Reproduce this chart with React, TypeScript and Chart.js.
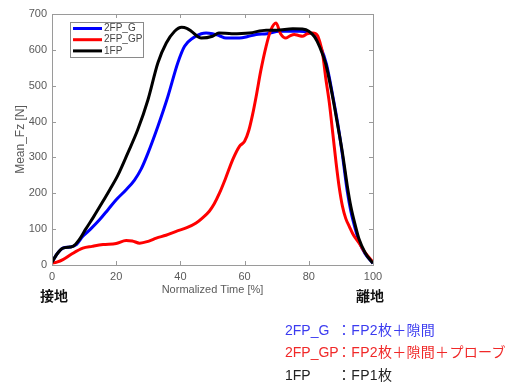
import React, { useEffect, useRef } from "react";
import { Chart, registerables } from "chart.js";

Chart.register(...registerables);

const xTicks = [0, 20, 40, 60, 80, 100];
const yTicks = [0, 100, 200, 300, 400, 500, 600, 700];

const seriesLabels = ["2FP_G", "2FP_GP", "1FP"];
const seriesColors = ["#0000ff", "#ff0000", "#000000"];

// 2FP_G (blue)
const gX = [0, 1.5, 3.4, 5.5, 7.6, 9.6, 12, 14.8, 17.5, 20, 23.1, 25.7, 27.8, 29.9, 33, 36.1, 39.2, 41.3, 43.9, 46.5, 48, 50, 52, 54.2, 56, 58.4, 61, 63.6, 67, 70.8, 74, 77, 79.5, 81.7, 83.5, 85.5, 87.5, 89, 90.5, 92, 93.1, 94.5, 95.7, 97.5, 100];
const gY = [8, 30, 47, 50, 57, 80, 100, 126, 155, 182, 210, 237, 268, 312, 387, 470, 564, 610, 633, 645, 647, 645, 640, 633, 633, 633, 637, 643, 645, 652, 652, 652, 650, 640, 612, 560, 470, 395, 305, 205, 150, 100, 65, 32, 5];

// 2FP_GP (red)
const gpX = [0, 1.5, 3.4, 6, 9.6, 12.5, 15.9, 20, 23.1, 25, 27.3, 30, 32.5, 35.5, 38.7, 42, 44.9, 47, 49, 50.5, 52.2, 54, 56.3, 58.4, 60, 61.3, 62.5, 63.6, 65, 66.7, 68.2, 69.8, 71.2, 72.9, 74.3, 75.5, 76.8, 78, 79.5, 81.2, 82.7, 83.5, 84.3, 85.3, 86.4, 87.5, 88.5, 89.5, 90.5, 91.5, 92.6, 94, 95.7, 97.5, 100];
const gpY = [5, 8, 15, 30, 47, 52, 57, 60, 68, 67, 61, 66, 75, 83, 94, 104, 117, 132, 150, 170, 201, 240, 294, 331, 345, 375, 420, 470, 540, 610, 656, 675, 645, 633, 640, 643, 640, 638, 645, 647, 640, 620, 590, 520, 452, 365, 285, 215, 163, 130, 108, 82, 61, 35, 8];

// 1FP (black)
const fpX = [0, 1.5, 3.4, 6.5, 8.6, 10.5, 13, 15.5, 18, 20.5, 23.6, 26.7, 29.9, 33, 35.6, 38.2, 40.4, 42, 43.4, 46.5, 50, 52, 56, 61.5, 66.7, 70, 75, 78, 80, 81.8, 83.3, 85.3, 87.4, 89, 90.5, 92, 93.1, 94.5, 95.7, 97.5, 99.3, 100];
const fpY = [8, 30, 47, 52, 72, 100, 135, 172, 210, 250, 312, 377, 461, 564, 619, 652, 663, 660, 652, 633, 638, 647, 645, 647, 655, 655, 659, 658, 652, 636, 610, 560, 470, 390, 312, 220, 163, 110, 71, 35, 12, 5];

const seriesX = [gX, gpX, fpX];
const seriesY = [gY, gpY, fpY];

const framePlugin = {
  id: "frame",
  afterDatasetsDraw(chart: any) {
    const { ctx, chartArea: a, scales } = chart;
    ctx.save();
    ctx.strokeStyle = "#9a9a9a";
    ctx.lineWidth = 1;
    ctx.strokeRect(Math.round(a.left) + 0.5, Math.round(a.top) + 0.5, Math.round(a.right - a.left), Math.round(a.bottom - a.top));
    const tl = 4;
    ctx.beginPath();
    xTicks.forEach((v) => {
      const px = Math.round(scales.x.getPixelForValue(v)) + 0.5;
      ctx.moveTo(px, a.bottom);
      ctx.lineTo(px, a.bottom - tl);
      ctx.moveTo(px, a.top);
      ctx.lineTo(px, a.top + tl);
    });
    yTicks.forEach((v) => {
      const py = Math.round(scales.y.getPixelForValue(v)) + 0.5;
      ctx.moveTo(a.left, py);
      ctx.lineTo(a.left + tl, py);
      ctx.moveTo(a.right, py);
      ctx.lineTo(a.right - tl, py);
    });
    ctx.stroke();
    ctx.restore();
  },
};

const legendPlugin = {
  id: "innerLegend",
  afterDraw(chart: any) {
    const { ctx, chartArea: a } = chart;
    const x0 = Math.round(a.left) + 18;
    const y0 = Math.round(a.top) + 8;
    const w = 73;
    const h = 35;
    ctx.save();
    ctx.fillStyle = "#ffffff";
    ctx.fillRect(x0, y0, w, h);
    ctx.strokeStyle = "#8a8a8a";
    ctx.lineWidth = 1;
    ctx.strokeRect(x0 + 0.5, y0 + 0.5, w, h);
    ctx.font = "10px 'Liberation Sans', Arial, sans-serif";
    ctx.textBaseline = "middle";
    ctx.textAlign = "left";
    seriesLabels.forEach((lab, i) => {
      const yy = y0 + 6.5 + i * 11.2;
      ctx.strokeStyle = seriesColors[i];
      ctx.lineWidth = 3;
      ctx.beginPath();
      ctx.moveTo(x0 + 3, yy);
      ctx.lineTo(x0 + 32, yy);
      ctx.stroke();
      ctx.fillStyle = "#444444";
      ctx.fillText(lab, x0 + 34, yy);
    });
    ctx.restore();
  },
};

export default function App() {
  const ref = useRef<HTMLCanvasElement>(null);

  useEffect(() => {
    const orders = [2, 1, 0];
    const chart = new Chart(ref.current as HTMLCanvasElement, {
      type: "line",
      data: {
        datasets: seriesLabels.map((label, i) => ({
          label,
          data: seriesX[i].map((x, j) => ({ x, y: seriesY[i][j] })),
          borderColor: seriesColors[i],
          backgroundColor: seriesColors[i],
          borderWidth: 3,
          pointRadius: 0,
          fill: false,
          cubicInterpolationMode: "monotone" as const,
          order: orders[i],
        })),
      },
      options: {
        animation: false,
        responsive: false,
        maintainAspectRatio: false,
        layout: { padding: { left: 0, top: 14, right: 150, bottom: 88 } },
        plugins: { legend: { display: false }, tooltip: { enabled: false } },
        scales: {
          x: {
            type: "linear",
            min: 0,
            max: 100,
            afterBuildTicks: (s: any) => {
              s.ticks = xTicks.map((v) => ({ value: v }));
            },
            afterFit: (s: any) => {
              s.height = 35;
            },
            grid: { display: false, drawTicks: false },
            border: { display: false },
            ticks: {
              padding: 5,
              color: "#5a5a5a",
              font: { family: "'Liberation Sans', Arial, sans-serif", size: 11 },
              maxRotation: 0,
            },
            title: {
              display: true,
              text: "Normalized Time [%]",
              color: "#5a5a5a",
              font: { family: "'Liberation Sans', Arial, sans-serif", size: 11 },
              padding: { top: 0, bottom: 3 },
            },
          },
          y: {
            type: "linear",
            min: 0,
            max: 700,
            afterBuildTicks: (s: any) => {
              s.ticks = yTicks.map((v) => ({ value: v }));
            },
            afterFit: (s: any) => {
              s.width = 52;
            },
            grid: { display: false, drawTicks: false },
            border: { display: false },
            ticks: {
              padding: 5,
              color: "#5a5a5a",
              font: { family: "'Liberation Sans', Arial, sans-serif", size: 11 },
            },
            title: {
              display: true,
              text: "Mean_Fz [N]",
              color: "#5a5a5a",
              font: { family: "'Liberation Sans', Arial, sans-serif", size: 12 },
              padding: { top: 13, bottom: 0 },
            },
          },
        },
      },
      plugins: [framePlugin, legendPlugin],
    });
    return () => chart.destroy();
  }, []);

  const jp = "'Liberation Sans', 'Noto Sans CJK JP', sans-serif";
  const rowStyle = (top: number, color: string): React.CSSProperties => ({
    position: "absolute",
    top,
    left: 0,
    width: 523,
    height: 18,
    color,
    fontFamily: jp,
    fontSize: 14,
    lineHeight: "18px",
    whiteSpace: "nowrap",
  });
  const rows = [
    { code: "2FP_G", desc: "：FP2枚＋隙間", color: "#3b3bf0", top: 321 },
    { code: "2FP_GP", desc: "：FP2枚＋隙間＋プローブ", color: "#f02828", top: 343 },
    { code: "1FP", desc: "：FP1枚", color: "#222222", top: 366 },
  ];

  return (
    <div style={{ position: "absolute", left: 0, top: 0, width: 523, height: 388, background: "#ffffff", overflow: "hidden" }}>
      <canvas ref={ref} width={523} height={388} style={{ display: "block", width: 523, height: 388 }} />
      <div style={{ position: "absolute", left: 40, top: 286, fontFamily: "'Noto Sans CJK JP', sans-serif", fontSize: 14, fontWeight: 700, lineHeight: "18px", color: "#111" }}>接地</div>
      <div style={{ position: "absolute", left: 356, top: 286, fontFamily: "'Noto Sans CJK JP', sans-serif", fontSize: 14, fontWeight: 700, lineHeight: "18px", color: "#111" }}>離地</div>
      {rows.map((r) => (
        <div key={r.code} style={rowStyle(r.top, r.color)}>
          <span style={{ position: "absolute", left: 285 }}>{r.code}</span>
          <span style={{ position: "absolute", left: 337, letterSpacing: "0.3px" }}>{r.desc}</span>
        </div>
      ))}
    </div>
  );
}
